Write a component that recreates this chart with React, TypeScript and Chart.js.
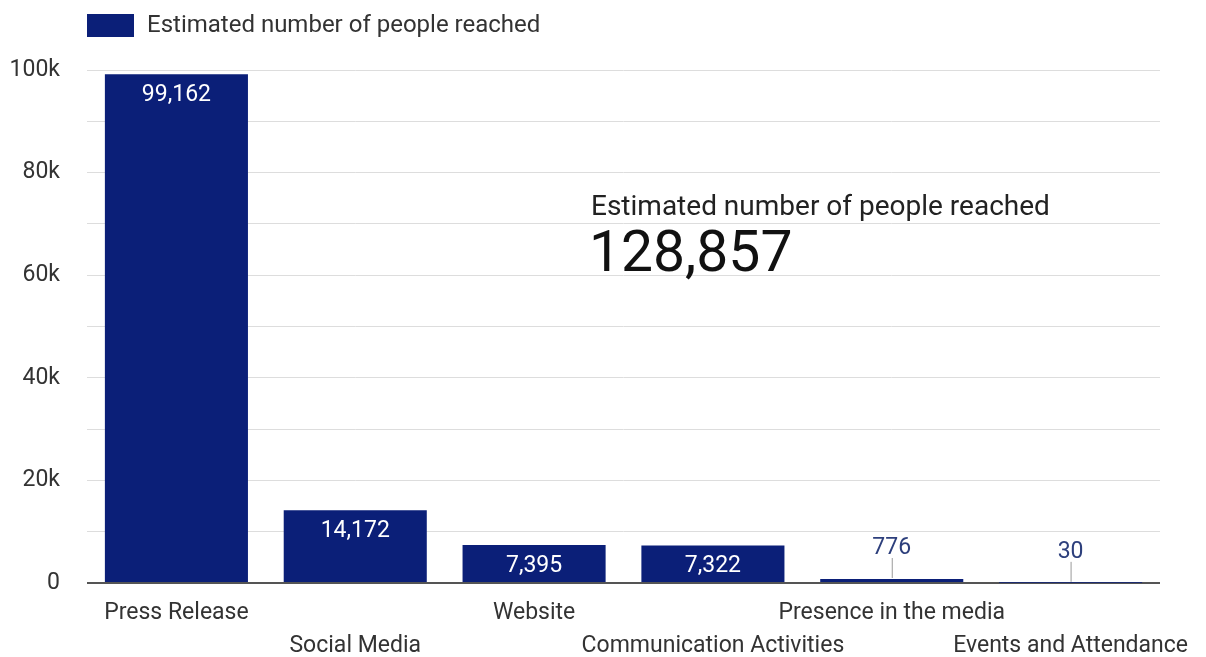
import React, { useEffect, useRef } from "react";
import { Chart, registerables } from "chart.js";

Chart.register(...registerables);

const categories: string[] = [
  "Press Release",
  "Social Media",
  "Website",
  "Communication Activities",
  "Presence in the media",
  "Events and Attendance",
];
const peopleReached: number[] = [99162, 14172, 7395, 7322, 776, 30];
const seriesName = "Estimated number of people reached";
const totalLabel = "Estimated number of people reached";
const totalValue = "128,857";
const yTickLabels: Record<number, string> = { 0: "0", 20000: "20k", 40000: "40k", 60000: "60k", 80000: "80k", 100000: "100k" };

const NAVY = "#0b1f78";
const FONT = "Roboto";

export default function App() {
  const ref = useRef<HTMLCanvasElement | null>(null);
  useEffect(() => {
    document.body.style.margin = "0";
    const canvas = ref.current;
    if (!canvas) return;
    const fmt = (v: number) => v.toLocaleString("en-US");

    const overlay = {
      id: "overlay",
      afterDraw(chart: any) {
        const ctx = chart.ctx;
        ctx.save();
        // legend
        ctx.fillStyle = NAVY;
        ctx.fillRect(87, 14, 47, 23);
        ctx.fillStyle = "#333";
        ctx.font = `24px ${FONT}`;
        ctx.textBaseline = "middle";
        ctx.textAlign = "left";
        ctx.fillText(seriesName, 147, 26);
        // big total
        ctx.fillStyle = "#222";
        ctx.font = `28px ${FONT}`;
        ctx.fillText(totalLabel, 591, 208);
        ctx.fillStyle = "#111";
        ctx.font = `57px ${FONT}`;
        ctx.fillText(totalValue, 589, 257);
        ctx.restore();
      },
      afterDatasetsDraw(chart: any) {
        const ctx = chart.ctx;
        const meta = chart.getDatasetMeta(0);
        ctx.save();
        ctx.font = `23px ${FONT}`;
        ctx.textAlign = "center";
        ctx.textBaseline = "middle";
        meta.data.forEach((bar: any, i: number) => {
          const v = peopleReached[i];
          const h = bar.base - bar.y;
          if (h > 30) {
            ctx.fillStyle = "#ffffff";
            ctx.fillText(fmt(v), bar.x, bar.y + 21);
          } else {
            ctx.strokeStyle = "#9a9a9a";
            ctx.lineWidth = 1;
            ctx.beginPath();
            ctx.moveTo(bar.x + 0.5, bar.y - 1);
            ctx.lineTo(bar.x + 0.5, bar.y - 21);
            ctx.stroke();
            ctx.fillStyle = "#2d3f7c";
            ctx.fillText(fmt(v), bar.x, bar.y - 31);
          }
        });
        ctx.restore();
      },
    };

    const chart = new Chart(canvas, {
      type: "bar",
      data: {
        labels: categories.map((c, i) => (i % 2 === 0 ? [c, ""] : ["", c])),
        datasets: [
          {
            label: seriesName,
            data: peopleReached,
            backgroundColor: NAVY,
            barPercentage: 0.8,
            categoryPercentage: 1,
          },
        ],
      },
      options: {
        animation: false,
        responsive: false,
        layout: { padding: { top: 70, right: 46, left: 0, bottom: 0 } },
        plugins: { legend: { display: false }, tooltip: { enabled: false } },
        scales: {
          x: {
            afterFit(scale: any) {
              scale.height = 74;
            },
            grid: { display: false },
            border: { display: false },
            ticks: {
              autoSkip: false,
              maxRotation: 0,
              minRotation: 0,
              padding: 6,
              color: "#333",
              font: { family: FONT, size: 23, lineHeight: 1.43 },
            },
          },
          y: {
            min: 0,
            max: 100000,
            afterFit(scale: any) {
              scale.width = 87;
            },
            border: { display: false },
            grid: {
              drawTicks: false,
              color: (c: any) => (c.tick && c.tick.value === 0 ? "#555" : "#dddddd"),
              lineWidth: (c: any) => (c.tick && c.tick.value === 0 ? 2 : 1),
            },
            ticks: {
              stepSize: 10000,
              padding: 27,
              color: "#333",
              font: { family: FONT, size: 23 },
              callback: (v: any) => yTickLabels[v as number] ?? "",
            },
          },
        },
      },
      plugins: [overlay],
    });
    return () => chart.destroy();
  }, []);
  return (
    <div style={{ width: 1206, height: 657 }}>
      <canvas ref={ref} width={1206} height={657} style={{ display: "block" }} />
    </div>
  );
}
